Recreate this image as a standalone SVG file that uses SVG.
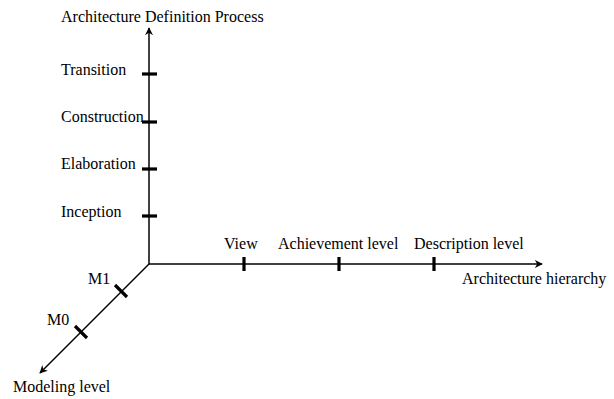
<svg xmlns="http://www.w3.org/2000/svg" width="614" height="399" viewBox="0 0 614 399">
<style>
text{font-family:'Liberation Serif','Times New Roman','DejaVu Serif',serif;font-size:16px;fill:#000}
.ax{stroke:#000;stroke-width:1.5;fill:none}
.tk{stroke:#000;stroke-width:3.2;fill:none}
</style>
<defs>
<marker id="ah" viewBox="0 0 10 10" refX="9" refY="5" markerWidth="8" markerHeight="8" markerUnits="userSpaceOnUse" orient="auto">
<path d="M0,0 L10,5 L0,10 L3,5 Z" fill="#000"/>
</marker>
</defs>
<rect width="614" height="399" fill="#fff"/>
<g id="connectors">
<line class="ax" x1="149" y1="264" x2="149" y2="28" marker-end="url(#ah)"/>
<line class="ax" x1="149" y1="264" x2="542" y2="264" marker-end="url(#ah)"/>
<line class="ax" x1="149" y1="264" x2="40" y2="373" marker-end="url(#ah)"/>
</g>
<g id="axis-process">
<text x="61" y="22">Architecture Definition Process</text>
</g>
<g id="transition"><line class="tk" x1="142" y1="74" x2="157" y2="74"/><text x="61" y="75">Transition</text></g>
<g id="construction"><line class="tk" x1="142" y1="122" x2="157" y2="122"/><text x="61" y="122">Construction</text></g>
<g id="elaboration"><line class="tk" x1="142" y1="169" x2="157" y2="169"/><text x="61" y="169">Elaboration</text></g>
<g id="inception"><line class="tk" x1="142" y1="216" x2="157" y2="216"/><text x="61" y="217">Inception</text></g>
<g id="view"><line class="tk" x1="244" y1="257" x2="244" y2="271"/><text x="224" y="249">View</text></g>
<g id="achievement"><line class="tk" x1="339" y1="257" x2="339" y2="271"/><text x="278" y="249">Achievement level</text></g>
<g id="description"><line class="tk" x1="434" y1="257" x2="434" y2="271"/><text x="414" y="249">Description level</text></g>
<g id="axis-hierarchy"><text x="462" y="284">Architecture hierarchy</text></g>
<g id="m1"><line class="tk" x1="115" y1="285" x2="127" y2="297"/><text x="88" y="284">M1</text></g>
<g id="m0"><line class="tk" x1="75" y1="326" x2="87" y2="338"/><text x="47" y="325">M0</text></g>
<g id="axis-modeling"><text x="13" y="392">Modeling level</text></g>
</svg>
